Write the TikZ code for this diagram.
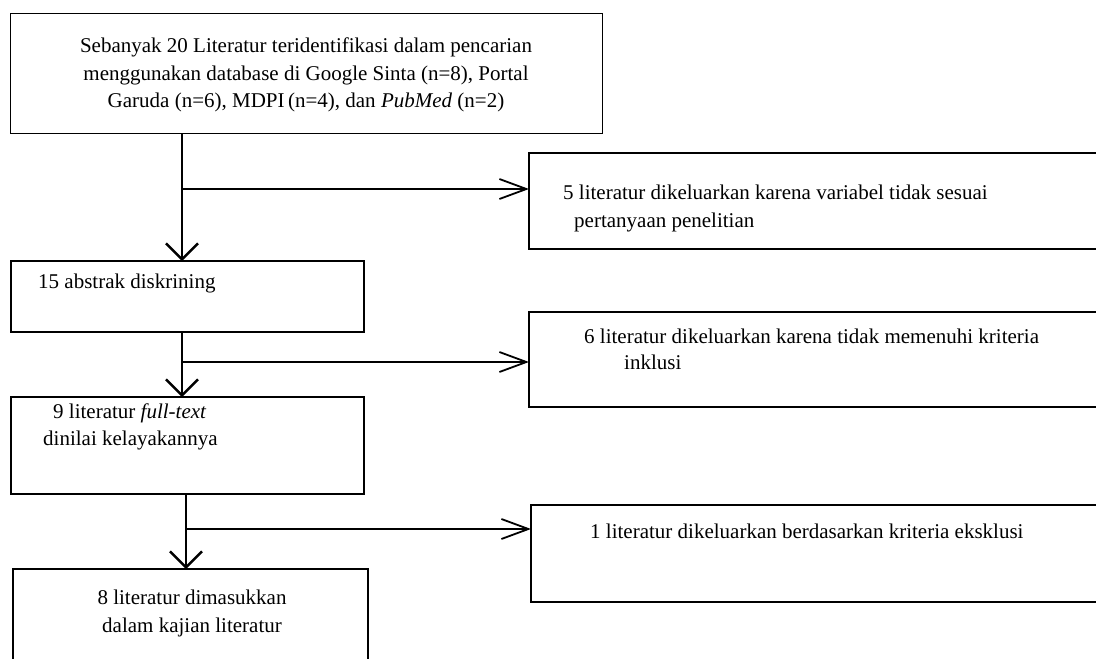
\documentclass[tikz,border=0pt]{standalone}
\usepackage{fontspec}
\setmainfont{Liberation Serif}
\usetikzlibrary{arrows.meta}
\begin{document}
\begin{tikzpicture}[x=1pt,y=-1pt,
  box/.style={draw=black, line width=1.8pt, inner sep=0pt, outer sep=0pt, anchor=north west},
  txt/.style={inner sep=0pt, font=\fontsize{21}{27}\selectfont},
  varrow/.style={line width=2.6pt, -{Straight Barb[length=16pt,width=32pt,line width=2.4pt]}},
  harrow/.style={line width=1.6pt, -{Straight Barb[length=27pt,width=20pt,line width=1.8pt]}}]
\useasboundingbox (0,0) rectangle (1096,659);
\clip (0,0) rectangle (1096,659);
% left column boxes
\node[box, minimum width=592pt, minimum height=120pt] (b1) at (10.5,13.5) {};
\node[box, minimum width=353pt, minimum height=71pt] (b2) at (11,261) {};
\node[box, minimum width=353pt, minimum height=97pt] (b3) at (11,397) {};
\node[box, minimum width=355pt, minimum height=110pt] (b4) at (13,569) {};
% right column boxes
\node[box, minimum width=580pt, minimum height=96pt] (r1) at (529,153) {};
\node[box, minimum width=580pt, minimum height=95pt] (r2) at (529,312) {};
\node[box, minimum width=580pt, minimum height=97pt] (r3) at (531,505) {};
% texts
\node[txt, anchor=base] (t1a) at (306,52) {Sebanyak 20 Literatur teridentifikasi dalam pencarian};
\node[txt, anchor=base] (t1b) at (306,80) {menggunakan database di Google Sinta (n=8), Portal};
\node[txt, anchor=base] (t1c) at (306,107) {Garuda (n=6), MDPI\,(n=4), dan \textit{PubMed} (n=2)};
\node[txt, anchor=base west] (s1a) at (563,199) {5 literatur dikeluarkan karena variabel tidak sesuai};
\node[txt, anchor=base west] (s1b) at (574,227) {pertanyaan penelitian};
\node[txt, anchor=base west] (t2) at (38,288) {15 abstrak diskrining};
\node[txt, anchor=base west] (s2a) at (584,343) {6 literatur dikeluarkan karena tidak memenuhi kriteria};
\node[txt, anchor=base west] (s2b) at (624,369) {inklusi};
\node[txt, anchor=base west] (t3a) at (53,418) {9 literatur \textit{full-text}};
\node[txt, anchor=base west] (t3b) at (43,445) {dinilai kelayakannya};
\node[txt, anchor=base west] (s3) at (590,538) {1 literatur dikeluarkan berdasarkan kriteria eksklusi};
\node[txt, anchor=base] (t4a) at (192,604) {8 literatur dimasukkan};
\node[txt, anchor=base] (t4b) at (192,632) {dalam kajian literatur};
% junctions
\coordinate (j1) at (182,189);
\coordinate (j2) at (182,362);
\coordinate (j3) at (186,529);
% connectors
\draw[varrow] (b1.south -| j1) -- (b2.north -| j1);
\draw[harrow] (j1) -- (r1.west |- j1);
\draw[varrow] (b2.south -| j2) -- (b3.north -| j2);
\draw[harrow] (j2) -- (r2.west |- j2);
\draw[varrow] (b3.south -| j3) -- (b4.north -| j3);
\draw[harrow] (j3) -- (r3.west |- j3);
\end{tikzpicture}
\end{document}
